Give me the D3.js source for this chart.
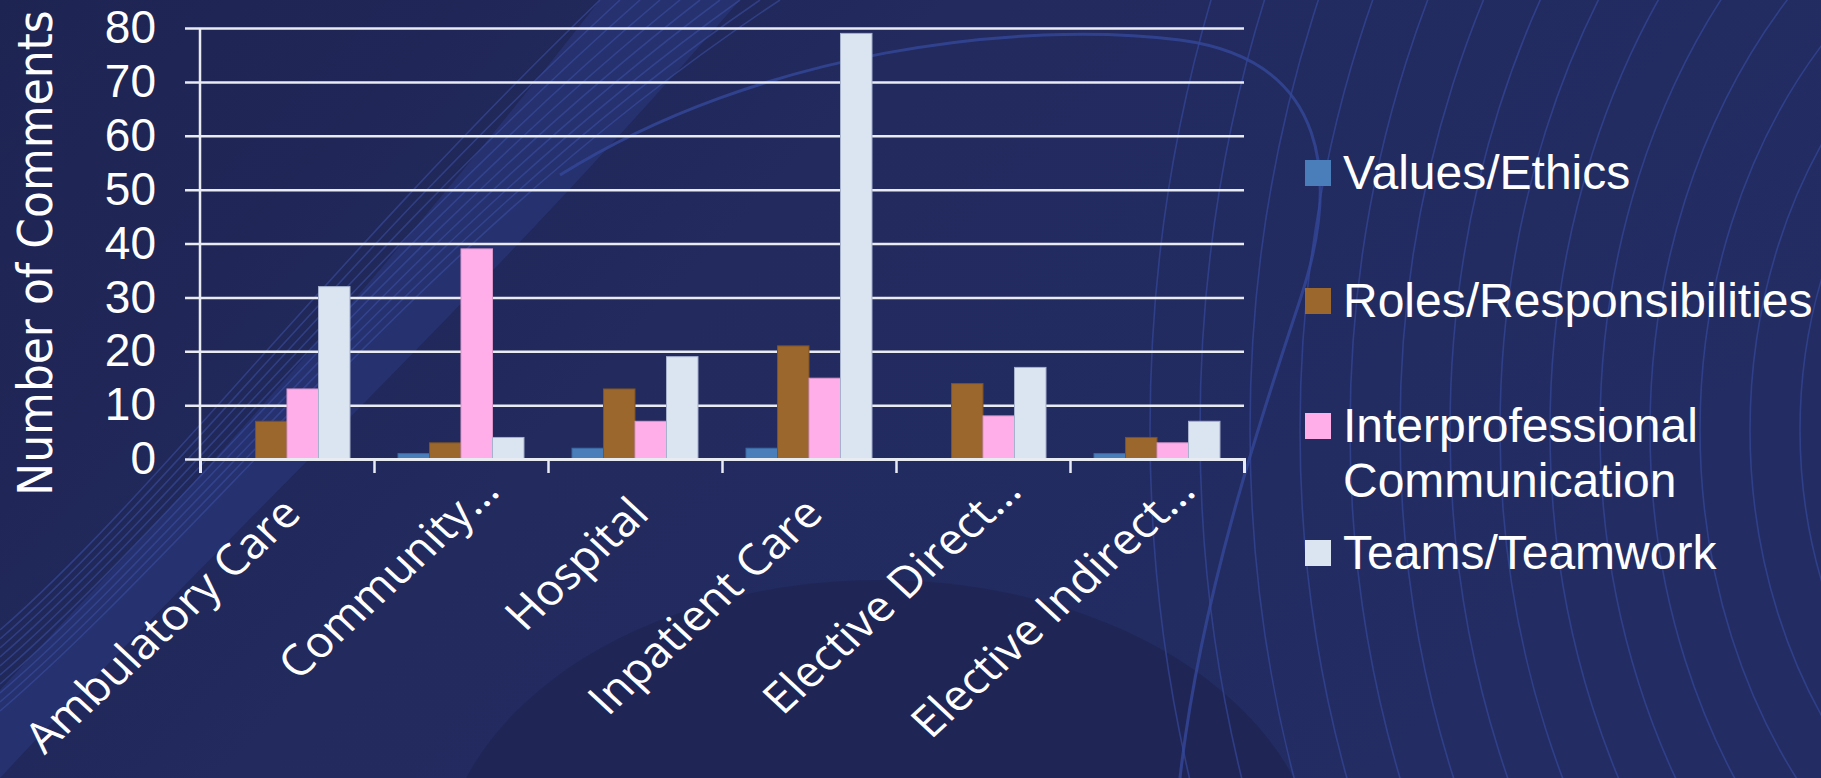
<!DOCTYPE html>
<html>
<head>
<meta charset="utf-8">
<script src="https://cdn.jsdelivr.net/npm/d3@7"></script>
<style>
  body { margin: 0; background: #222a5e; }
  svg { display: block; }
</style>
</head>
<body>
<svg id="chart"></svg>
<script>
// categories and series
const categories = ['Ambulatory Care', 'Community…', 'Hospital', 'Inpatient Care', 'Elective Direct…', 'Elective Indirect…'];
const seriesNames = ['Values/Ethics', 'Roles/Responsibilities', 'Interprofessional Communication', 'Teams/Teamwork'];
const valuesEthics = [0, 1, 2, 2, 0, 1];
const rolesResp = [7, 3, 13, 21, 14, 4];
const interComm = [13, 39, 7, 15, 8, 3];
const teamwork = [32, 4, 19, 79, 17, 7];
const yTicks = [0, 10, 20, 30, 40, 50, 60, 70, 80];

const colors = ['#4a7ebb', '#9c672d', '#ffaeea', '#dbe4f1'];
const strokes = ['#3b6aa3', '#7d5224', '#d996c8', '#a6b1cc'];

const W = 1821, H = 778;
const margin = {top: 28, right: 577, bottom: 319, left: 200};
const width = W - margin.left - margin.right;
const height = H - margin.top - margin.bottom;

const svg = d3.select('#chart').attr('width', W).attr('height', H);

// background decoration
const bg = svg.append('g');
const grad = svg.append('defs').append('linearGradient')
    .attr('id', 'bgGrad').attr('x1', 0).attr('y1', 0).attr('x2', 1).attr('y2', 0.4);
grad.append('stop').attr('offset', '0%').attr('stop-color', '#1e2452');
grad.append('stop').attr('offset', '45%').attr('stop-color', '#222a5e');
grad.append('stop').attr('offset', '100%').attr('stop-color', '#232d63');
bg.append('rect').attr('width', W).attr('height', H).attr('fill', 'url(#bgGrad)');

// darker dome bottom centre
bg.append('ellipse').attr('cx', 880).attr('cy', 880).attr('rx', 440).attr('ry', 300)
    .attr('fill', '#1f2655').attr('opacity', 0.85);

// light diagonal swath on the left
bg.append('path')
    .attr('d', 'M0,690 C120,560 300,380 600,0 L740,0 C480,300 240,520 0,778 Z')
    .attr('fill', '#2c3a84').attr('opacity', 0.5);
bg.selectAll('.swl').data(d3.range(0, 10)).join('path')
    .attr('class', 'swl')
    .attr('d', i => `M0,${630 + i * 9} C${150 + i * 6},${500 + i * 4} ${330 + i * 12},${260 - i * 4} ${600 + i * 20},0`)
    .attr('fill', 'none').attr('stroke', '#3a4ea0').attr('stroke-width', 1.6).attr('opacity', 0.6);

// big arc top centre, running down the right
bg.append('path')
    .attr('d', 'M560,175 C760,50 1020,20 1180,40 C1330,60 1340,180 1300,300 C1260,420 1200,600 1180,778')
    .attr('fill', 'none').attr('stroke', '#34479a').attr('stroke-width', 3).attr('opacity', 0.8);

// concentric contour lines on the right
bg.selectAll('.ctr').data(d3.range(0, 15)).join('ellipse')
    .attr('class', 'ctr')
    .attr('cx', 2150).attr('cy', 430)
    .attr('rx', i => 300 + i * 50).attr('ry', i => (300 + i * 50) * 1.25)
    .attr('fill', 'none').attr('stroke', '#34479a').attr('stroke-width', 1.6).attr('opacity', 0.7);

const chart = svg.append('g')
    .attr('transform', `translate(${margin.left},${margin.top})`);

const x0 = d3.scaleBand().domain(categories).range([0, width])
    .paddingInner(0.276).paddingOuter(0.138);
const x1 = d3.scaleBand().domain(seriesNames).range([0, x0.bandwidth()]);
const y = d3.scaleLinear().domain([0, 80]).range([height, 0]);
const xTickScale = d3.scaleLinear().domain([0, categories.length]).range([0, width]);

// gridlines + y labels
const yAxis = d3.axisLeft(y).tickValues(yTicks).tickSize(-(width + 15)).tickPadding(29);
const yAxisG = chart.append('g').attr('transform', 'translate(-15,0)').call(yAxis);
yAxisG.select('.domain').remove();
yAxisG.selectAll('line').attr('stroke', '#e9ebf2').attr('stroke-width', 2.5);
yAxisG.selectAll('text')
    .attr('fill', '#ffffff')
    .style('font-family', '"Liberation Sans", Arial, sans-serif')
    .style('font-size', '46px');

// bars
const series = [valuesEthics, rolesResp, interComm, teamwork];
const groups = chart.append('g').selectAll('g')
    .data(categories).join('g')
    .attr('transform', c => `translate(${x0(c)},0)`);

groups.selectAll('rect')
    .data((c, ci) => seriesNames.map((s, si) => ({s, si, v: series[si][ci]})))
    .join('rect')
    .attr('x', d => x1(d.s))
    .attr('y', d => y(d.v))
    .attr('width', x1.bandwidth())
    .attr('height', d => y(0) - y(d.v))
    .attr('fill', d => colors[d.si])
    .attr('stroke', d => strokes[d.si])
    .attr('stroke-width', 1);

// axis lines
chart.append('line')
    .attr('x1', 0).attr('x2', 0).attr('y1', y(80)).attr('y2', y(0))
    .attr('stroke', '#e9ebf2').attr('stroke-width', 2.5);

const xAxis = d3.axisBottom(xTickScale).ticks(categories.length).tickSize(14).tickFormat('');
const xAxisG = chart.append('g').attr('transform', `translate(0,${height})`).call(xAxis);
xAxisG.select('.domain').attr('stroke', '#e9ebf2').attr('stroke-width', 3);
xAxisG.selectAll('line').attr('stroke', '#e9ebf2').attr('stroke-width', 2.5);

// category labels (slanted, slightly stretched like the original picture)
chart.append('g').selectAll('text')
    .data(categories).join('text')
    .attr('transform', c => `translate(${x0(c) + x0.bandwidth() / 2 + 16},${height + 57}) scale(1.08,1) rotate(-45)`)
    .attr('dx', c => c.endsWith('…') ? 32 : 0)
    .attr('text-anchor', 'end')
    .attr('fill', '#ffffff')
    .style('font-family', '"Open Sans", "DejaVu Sans", sans-serif')
    .style('font-size', '43px')
    .text(c => c);

// y title
svg.append('text')
    .attr('transform', `translate(52,${(12 + 494) / 2}) scale(1.08,1) rotate(-90)`)
    .attr('text-anchor', 'middle')
    .attr('fill', '#ffffff')
    .style('font-family', '"DejaVu Sans", Verdana, sans-serif')
    .style('font-size', '44px')
    .text('Number of Comments');

// legend
const legendRows = [
  {lines: ['Values/Ethics'], y: 189},
  {lines: ['Roles/Responsibilities'], y: 317},
  {lines: ['Interprofessional', 'Communication'], y: 442},
  {lines: ['Teams/Teamwork'], y: 569}
];
const legend = svg.append('g');
const li = legend.selectAll('g').data(legendRows).join('g')
    .attr('transform', d => `translate(1305,${d.y})`);
li.append('rect')
    .attr('x', 0).attr('y', -29).attr('width', 26).attr('height', 26)
    .attr('fill', (d, i) => colors[i]);
li.append('text')
    .attr('x', 38)
    .attr('fill', '#ffffff')
    .style('font-family', '"Liberation Sans", Arial, sans-serif')
    .style('font-size', '48px')
    .selectAll('tspan').data(d => d.lines).join('tspan')
    .attr('x', 38).attr('dy', (d, i) => i === 0 ? 0 : 55)
    .text(d => d);
</script>
</body>
</html>
